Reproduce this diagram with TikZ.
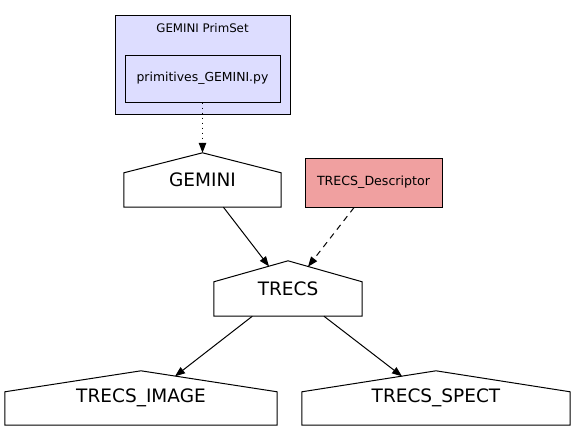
\documentclass[tikz,border=0pt]{standalone}
\usepackage{fontspec}
\setmainfont{DejaVu Sans}
\usetikzlibrary{arrows.meta}
\definecolor{lav}{HTML}{DDDDFF}
\definecolor{pinkfill}{HTML}{F0A0A0}
\begin{document}
\begin{tikzpicture}[x=1pt,y=-1pt,
  box/.style={draw, line width=1pt, inner sep=0pt},
  housenode/.style={inner sep=0pt, font=\fontsize{18.5}{20}\selectfont},
  housepath/.style={draw, line width=1pt},
  edge/.style={line width=1pt, -{Triangle[length=10pt,width=7.5pt]}}]
\useasboundingbox (0,0) rectangle (576,437);
% cluster
\node[box, fill=lav, minimum width=175pt, minimum height=99pt] (cluster) at (202.5,64.5) {};
\node[font=\fontsize{11.8}{13}\selectfont, inner sep=0pt] (clabel) at (202.5,28) {GEMINI PrimSet};
\node[box, fill=lav, minimum width=155pt, minimum height=47pt, font=\fontsize{12.4}{14}\selectfont] (prim) at (202.5,78.5) {primitives\_GEMINI.py};
% descriptor
\node[box, fill=pinkfill, minimum width=137pt, minimum height=49pt, font=\fontsize{12.6}{14}\selectfont] (desc) at (373.5,182.5) {TRECS\_Descriptor};
% houses
\node[housenode, minimum width=157pt, minimum height=54pt] (gem) at (202.5,180) {GEMINI};
\node[housenode, minimum width=148pt, minimum height=55pt] (trecs) at (288,288.5) {TRECS};
\node[housenode, minimum width=272pt, minimum height=54pt] (img) at (141,398) {TRECS\_IMAGE};
\node[housenode, minimum width=268pt, minimum height=54pt] (spect) at (436,398) {TRECS\_SPECT};
\foreach \n/\r in {gem/20pt, trecs/21pt, img/21pt, spect/21pt}{
  \draw[housepath] ([yshift=-\r]\n.north west) -- (\n.north) -- ([yshift=-\r]\n.north east)
     -- (\n.south east) -- (\n.south west) -- cycle;
}
% roof points
\coordinate (tG) at (269,266.4);
\coordinate (tD) at (308,266.7);
\coordinate (tI) at (175,376.3);
\coordinate (tS) at (402,376.3);
% edges
\draw[edge, dash pattern=on 1.5pt off 3.5pt] (prim) -- (gem);
\draw[edge] (gem) -- (tG);
\draw[edge, dash pattern=on 6pt off 5pt] (desc) -- (tD);
\draw[edge] (trecs) -- (tI);
\draw[edge] (trecs) -- (tS);
\end{tikzpicture}
\end{document}
